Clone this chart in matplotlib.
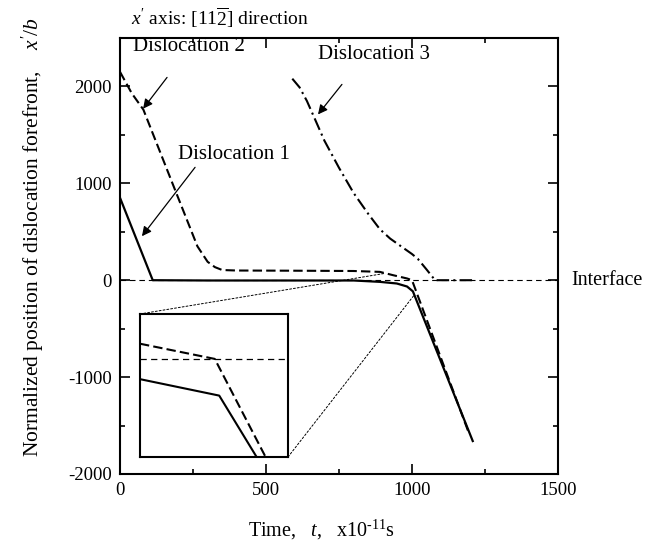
import matplotlib.pyplot as plt
from matplotlib.patches import ConnectionPatch
from matplotlib.ticker import MultipleLocator

plt.rcParams['font.family'] = ['Liberation Serif', 'DejaVu Serif']
plt.rcParams['mathtext.fontset'] = 'custom'
plt.rcParams['mathtext.rm'] = 'Liberation Serif'
plt.rcParams['mathtext.it'] = 'Liberation Serif:italic'
plt.rcParams['axes.unicode_minus'] = False

# dislocation 1 (solid)
t1 = [0, 112, 300, 600, 800, 890, 948, 983, 1003, 1208]
d1 = [850, 0, -3, -3, -3, -17, -34, -65, -115, -1660]
# dislocation 2 (dashed)
t2 = [0, 40, 80, 190, 265, 300, 325, 350, 400, 600, 800, 890, 935, 983, 1000, 1195]
d2 = [2150, 1930, 1760, 920, 350, 190, 135, 105, 100, 98, 95, 86, 52, 18, 0, -1580]
# dislocation 3 (dash-dot)
t3 = [590, 615, 640, 665, 700, 750, 800, 850, 890, 925, 960, 1000, 1020, 1050, 1079, 1210]
d3 = [2080, 1990, 1850, 1680, 1440, 1160, 900, 685, 526, 430, 355, 270, 220, 110, 0, 0]

# magnified view near the interface (inset)
ins_xlim = [908, 1007]
ins_ylim = [-155, 71]
ins_t1 = [908, 961, 986]
ins_d1 = [-32, -58, -155]
ins_t2 = [908, 958, 992]
ins_d2 = [24, 0, -155]

fig = plt.figure(figsize=(6.65, 5.45), dpi=100)
ax = fig.add_axes([0.1805, 0.1303, 0.6586, 0.8])

ax.axhline(0, color='k', lw=0.8, dashes=(5, 3.5))
ax.plot(t1, d1, color='k', lw=1.6)
ax.plot(t2, d2, color='k', lw=1.5, dashes=(4.5, 2))
ax.plot(t3, d3, color='k', lw=1.5, dashes=(6, 2, 1, 2))

ax.set_xlim(0, 1500)
ax.set_ylim(-2000, 2500)
ax.xaxis.set_major_locator(MultipleLocator(500))
ax.xaxis.set_minor_locator(MultipleLocator(250))
ax.yaxis.set_major_locator(MultipleLocator(1000))
ax.yaxis.set_minor_locator(MultipleLocator(500))
ax.set_yticks([-2000, -1000, 0, 1000, 2000])
ax.tick_params(which='both', direction='in', top=True, right=True, width=1.2,
               labelsize=13.5, pad=6)
ax.tick_params(which='major', length=7)
ax.tick_params(which='minor', length=3.5)
for sp in ax.spines.values():
    sp.set_linewidth(1.5)

ax.set_xlabel(r'Time,   $t$,   x10$^{\text{-11}}$s', fontsize=14.5)
ax.xaxis.set_label_coords(0.461, -0.10)
ax.set_ylabel(r"Normalized position of dislocation forefront,    $x'/b$", fontsize=15.5)
ax.yaxis.set_label_coords(-0.168, 0.544)

ax.text(0.025, 1.018, r"$x'$ axis: [11$\overline{2}$] direction",
        transform=ax.transAxes, fontsize=14, ha='left', va='bottom')

ax.text(45, 2410, 'Dislocation 2', fontsize=15, va='center')
ax.text(678, 2330, 'Dislocation 3', fontsize=15, va='center')
ax.text(199, 1300, 'Dislocation 1', fontsize=15, va='center')
ax.text(1545, 0, 'Interface', fontsize=14.5, va='center', clip_on=False)

arrow = dict(arrowstyle='-|>', color='k', lw=0.9, mutation_scale=14, shrinkA=0, shrinkB=0)
ax.annotate('', xy=(79, 1770), xytext=(161, 2093), arrowprops=arrow)
ax.annotate('', xy=(75, 454), xytext=(257, 1165), arrowprops=arrow)
ax.annotate('', xy=(678, 1711), xytext=(760, 2021), arrowprops=arrow)

# inset
ins = fig.add_axes([0.2105, 0.1615, 0.2226, 0.2624])
ins.axhline(0, color='k', lw=0.9, dashes=(5, 3.5))
ins.plot(ins_t1, ins_d1, color='k', lw=1.5)
ins.plot(ins_t2, ins_d2, color='k', lw=1.5, dashes=(4.5, 2))
ins.set_xlim(ins_xlim)
ins.set_ylim(ins_ylim)
ins.set_xticks([])
ins.set_yticks([])
for sp in ins.spines.values():
    sp.set_linewidth(1.5)

for xa, xb in [((0, 1), (ins_xlim[0], ins_ylim[1])), ((1, 0), (ins_xlim[1], ins_ylim[0]))]:
    con = ConnectionPatch(xyA=xa, coordsA=ins.transAxes, xyB=xb, coordsB=ax.transData,
                          color='k', lw=0.7, linestyle=(0, (2, 2)))
    fig.add_artist(con)

fig.savefig('out.png', dpi=100)
